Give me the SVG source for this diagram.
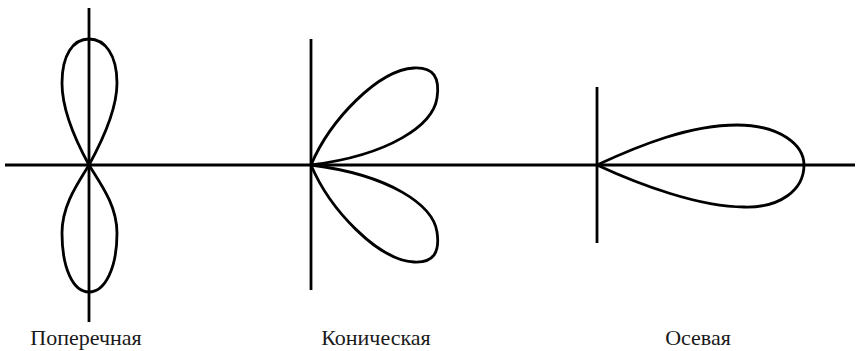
<svg xmlns="http://www.w3.org/2000/svg" width="857" height="351" viewBox="0 0 857 351">
<style>
.ln{fill:none;stroke:#000;stroke-width:2.8;stroke-linejoin:round;stroke-linecap:butt}
.lb{font-family:"Liberation Serif","Times New Roman",serif;font-size:22px;fill:#1a1a1a;text-anchor:middle}
</style>
<rect width="857" height="351" fill="#fff"/>
<g id="axis">
<line class="ln" x1="5" y1="165" x2="855" y2="165"/>
</g>
<g id="transverse">
<line class="ln" x1="89" y1="8" x2="89" y2="322"/>
<path class="ln" d="M89,165 C100,145 117,112 117,83 C117,55 105,39 89,39 C73,39 62,55 62,83 C62,112 78,145 89,165 Z"/>
<path class="ln" d="M89,165 C100,183 117,205 117,233 C117,268 105,292 89,292 C73,292 62,268 62,233 C62,205 78,183 89,165 Z"/>
<text class="lb" x="86" y="345">Поперечная</text>
</g>
<g id="conical">
<line class="ln" x1="311" y1="39" x2="311" y2="290"/>
<path class="ln" d="M311,165 C330,120 378,70 414,68 C434,67 440,78 437,98 C433,125 390,155 311,165 Z"/>
<path class="ln" d="M311,165 C330,210 378,260 414,262 C434,263 440,252 437,232 C433,205 390,175 311,165 Z"/>
<text class="lb" x="376" y="345">Коническая</text>
</g>
<g id="axial">
<line class="ln" x1="597" y1="87" x2="597" y2="243"/>
<path class="ln" d="M597,165 C640,145 690,125 737,125 C780,125 804,145 804,165 C804,190 780,208 744,207 C700,207 640,185 597,165 Z"/>
<text class="lb" x="698" y="345">Осевая</text>
</g>
</svg>
